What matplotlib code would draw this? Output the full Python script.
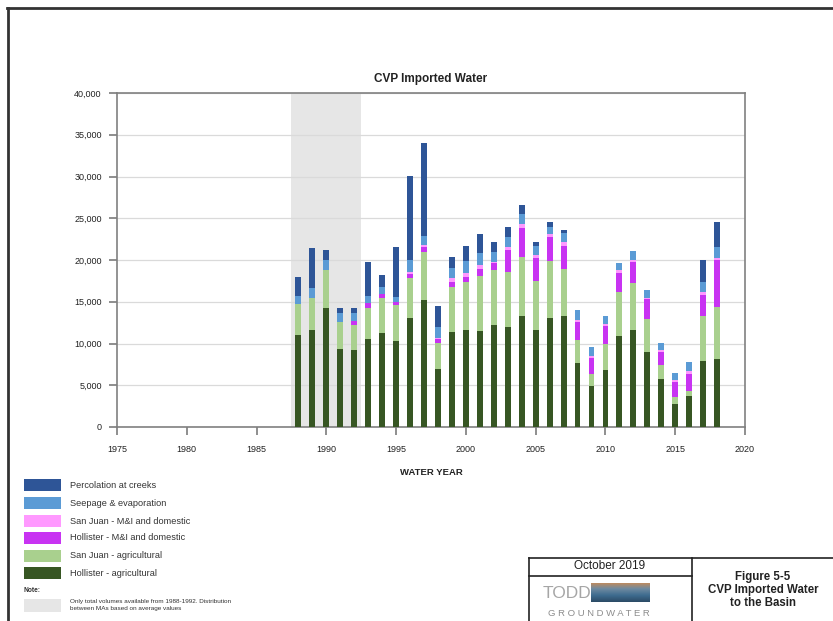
import numpy as np
import matplotlib
matplotlib.use("Agg")
import matplotlib.pyplot as plt
from matplotlib.lines import Line2D
from matplotlib.patches import Rectangle

plt.rcParams['font.family'] = ['Liberation Sans', 'DejaVu Sans']

# Water years and imported volumes (acre-feet) by use
years = list(range(1988, 2019))
hollister_ag = [11.0, 11.6, 14.2, 9.4, 9.2, 10.5, 11.2, 10.3, 13.1, 15.2, 6.9, 11.4, 11.6,
                11.5, 12.2, 12.0, 13.3, 11.6, 13.1, 13.3, 7.7, 4.9, 6.8, 10.9, 11.6, 9.0,
                5.7, 2.8, 3.7, 7.9, 8.1]
sanjuan_ag = [3.7, 3.8, 4.6, 3.2, 3.0, 3.8, 4.2, 4.3, 4.7, 5.8, 3.2, 5.4, 5.8,
              6.6, 6.6, 6.6, 7.0, 5.9, 6.8, 5.6, 2.7, 1.5, 3.2, 5.3, 5.7, 3.9,
              1.7, 0.8, 0.6, 5.4, 6.3]
hollister_mi = [0.0, 0.0, 0.0, 0.0, 0.5, 0.5, 0.5, 0.4, 0.5, 0.5, 0.4, 0.6, 0.6,
                0.8, 0.8, 2.6, 3.5, 2.7, 2.8, 2.8, 2.2, 1.9, 2.1, 2.3, 2.5, 2.4,
                1.6, 1.8, 2.1, 2.5, 5.6]
sanjuan_mi = [0.0, 0.0, 0.0, 0.0, 0.0, 0.0, 0.0, 0.0, 0.3, 0.3, 0.2, 0.4, 0.4,
              0.5, 0.2, 0.3, 0.5, 0.4, 0.4, 0.5, 0.2, 0.2, 0.2, 0.3, 0.2, 0.2,
              0.2, 0.2, 0.3, 0.4, 0.2]
seepage = [1.0, 1.2, 1.2, 1.1, 0.9, 0.9, 0.9, 0.6, 1.4, 1.1, 1.3, 1.2, 1.5,
           1.4, 1.2, 1.3, 1.2, 1.1, 0.9, 1.0, 1.2, 1.1, 1.0, 0.9, 1.1, 0.9,
           0.8, 0.9, 1.1, 1.2, 1.3]
percolation = [2.3, 4.8, 1.2, 0.5, 0.6, 4.1, 1.4, 5.9, 10.1, 11.1, 2.5, 1.3, 1.8,
               2.3, 1.2, 1.1, 1.1, 0.5, 0.6, 0.4, 0.0, 0.0, 0.0, 0.0, 0.0, 0.0,
               0.0, 0.0, 0.0, 2.6, 3.0]

series_names = ["Hollister - agricultural", "San Juan - agricultural",
                "Hollister - M&I and domestic", "San Juan - M&I and domestic",
                "Seepage & evaporation", "Percolation at creeks"]
series_colors = ["#375623", "#A9D08E", "#C833F2", "#FF99FF", "#5B9BD5", "#2E5597"]
series_values = [hollister_ag, sanjuan_ag, hollister_mi, sanjuan_mi, seepage, percolation]

estimated_period = (1987.5, 1992.5)
x_ticks = list(range(1975, 2021, 5))
y_ticks = list(range(0, 40001, 5000))

W, H = 833, 621
fig = plt.figure(figsize=(W / 100, H / 100), dpi=100)
fig.patch.set_facecolor("white")


def fx(px):
    return px / W


def fy(py):
    return 1 - py / H


ax = fig.add_axes([fx(117), fy(427), fx(745) - fx(117), fy(93) - fy(427)])

# Period with totals only
ax.axvspan(*estimated_period, color="#E6E6E6", zorder=0, lw=0)

yrs = np.array(years)
bottom = np.zeros(len(years))
for name, color, vals in zip(series_names, series_colors, series_values):
    v = np.array(vals) * 1000
    ax.bar(yrs, v, bottom=bottom, width=0.42, color=color, label=name, zorder=3, lw=0)
    bottom += v

ax.set_xlim(1975, 2020)
ax.set_ylim(0, 40000)
ax.set_xticks(x_ticks)
ax.set_yticks(y_ticks)
ax.set_yticklabels([f"{t:,}" for t in y_ticks])
ax.yaxis.grid(True, color="#DADADA", lw=0.9, zorder=1)
ax.set_axisbelow(True)
for s in ax.spines.values():
    s.set_color("#808080")
    s.set_linewidth(1.2)
ax.tick_params(axis="both", direction="out", length=6, width=1.1, color="#707070",
               labelsize=6.5, labelcolor="#222222")
ax.tick_params(axis="y", pad=5)
ax.tick_params(axis="x", pad=7)
ax.set_title("CVP Imported Water", fontsize=8.5, fontweight="bold", pad=8, color="#222222")
ax.set_xlabel("WATER YEAR", fontsize=6.8, fontweight="bold", labelpad=10, color="#222222")

# Page frame
fig.add_artist(Line2D([fx(7), 1], [fy(8), fy(8)], color="#333333", lw=2))
fig.add_artist(Line2D([fx(8), fx(8)], [fy(8), 0], color="#333333", lw=2))

# Legend patches
legend_rows = list(zip(series_names, series_colors))[::-1]
row_y = [485, 503, 521, 538, 556, 573]
for (name, color), yy in zip(legend_rows, row_y):
    fig.add_artist(Rectangle((fx(24), fy(yy + 6)), fx(61) - fx(24), fy(yy - 6) - fy(yy + 6),
                             color=color, lw=0))
    fig.text(fx(70), fy(yy), name, fontsize=6.6, va="center", ha="left", color="#333333")
fig.text(fx(24), fy(590), "Note:", fontsize=4.8, fontweight="bold", va="center", color="#333333")
fig.add_artist(Rectangle((fx(24), fy(612)), fx(61) - fx(24), fy(599) - fy(612),
                         color="#E6E6E6", lw=0))
fig.text(fx(70), fy(605),
         "Only total volumes available from 1988-1992. Distribution\nbetween MAs based on average values",
         fontsize=4.6, va="center", ha="left", color="#333333", linespacing=1.3)

# Title block
bx0, by0, bdiv, bmid = 529, 558, 692, 576
for seg in [([bx0, 833], [by0, by0]), ([bx0, bx0], [by0, 621]), ([bdiv, bdiv], [by0, 621]),
            ([bx0, bdiv], [bmid, bmid])]:
    fig.add_artist(Line2D([fx(p) for p in seg[0]], [fy(p) for p in seg[1]], color="#222222", lw=1.2))
fig.text(fx(610), fy(566), "October 2019", fontsize=8.5, ha="center", va="center", color="#222222")

fig.text(fx(543), fy(593), "TODD", fontsize=12.5, ha="left", va="center", color="#A6A6A6")
fig.text(fx(599), fy(613), "G R O U N D W A T E R", fontsize=6.8, ha="center", va="center",
         color="#8C8C8C")
logo = fig.add_axes([fx(591), fy(602), fx(650) - fx(591), fy(583) - fy(602)])
grad = np.linspace(0, 1, 50)[:, None]
cmap = matplotlib.colors.LinearSegmentedColormap.from_list(
    "logo", ["#C98B55", "#6E8AA0", "#3E6C8F", "#2C4B66"])
logo.imshow(grad, aspect="auto", cmap=cmap, extent=[0, 1, 0, 1])
logo.set_axis_off()
fig.text(fx(763), fy(577), "Figure 5-5", fontsize=8.3, fontweight="bold", ha="center", va="center",
         color="#222222")
fig.text(fx(763), fy(590), "CVP Imported Water", fontsize=8.3, fontweight="bold", ha="center",
         va="center", color="#222222")
fig.text(fx(763), fy(603), "to the Basin", fontsize=8.3, fontweight="bold", ha="center",
         va="center", color="#222222")

fig.savefig("out.png", dpi=100, facecolor="white")
